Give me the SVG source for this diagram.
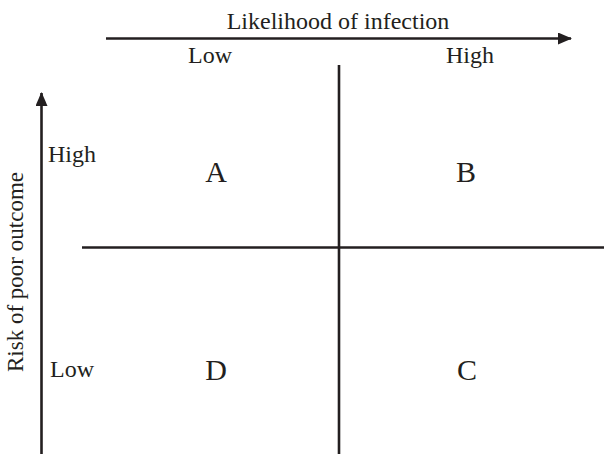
<svg xmlns="http://www.w3.org/2000/svg" width="604" height="454" viewBox="0 0 604 454">
<style>
text{font-family:"Liberation Serif","Times New Roman",serif;fill:#231f20}
.lab{font-size:24px}
.rot{font-size:23px}
.q{font-size:30px}
.ln{stroke:#231f20;stroke-width:2.6;fill:none}
</style>
<defs>
<marker id="ah" markerWidth="14" markerHeight="12" refX="13" refY="6" orient="auto" markerUnits="userSpaceOnUse">
<path d="M0,0 L14,6 L0,12 Z" fill="#231f20"/>
</marker>
</defs>
<rect width="604" height="454" fill="#fff"/>
<g id="connectors">
<line class="ln" x1="106" y1="38.5" x2="571" y2="38.5" marker-end="url(#ah)"/>
<line class="ln" x1="41.5" y1="454" x2="41.5" y2="93" marker-end="url(#ah)"/>
<line class="ln" x1="339" y1="65" x2="339" y2="454"/>
<line class="ln" x1="82" y1="247.5" x2="604" y2="247.5"/>
</g>
<g id="x-axis-label"><text class="lab" x="338" y="29" text-anchor="middle">Likelihood of infection</text></g>
<g id="x-low"><text class="lab" x="210" y="63" text-anchor="middle">Low</text></g>
<g id="x-high"><text class="lab" x="470" y="63" text-anchor="middle">High</text></g>
<g id="y-axis-label"><text class="rot" transform="translate(23,272) rotate(-90)" text-anchor="middle">Risk of poor outcome</text></g>
<g id="y-high"><text class="lab" x="48" y="162">High</text></g>
<g id="y-low"><text class="lab" x="50" y="377">Low</text></g>
<g id="A"><text class="q" x="216" y="182" text-anchor="middle">A</text></g>
<g id="B"><text class="q" x="466" y="182" text-anchor="middle">B</text></g>
<g id="D"><text class="q" x="216" y="380" text-anchor="middle">D</text></g>
<g id="C"><text class="q" x="467" y="380" text-anchor="middle">C</text></g>
</svg>
